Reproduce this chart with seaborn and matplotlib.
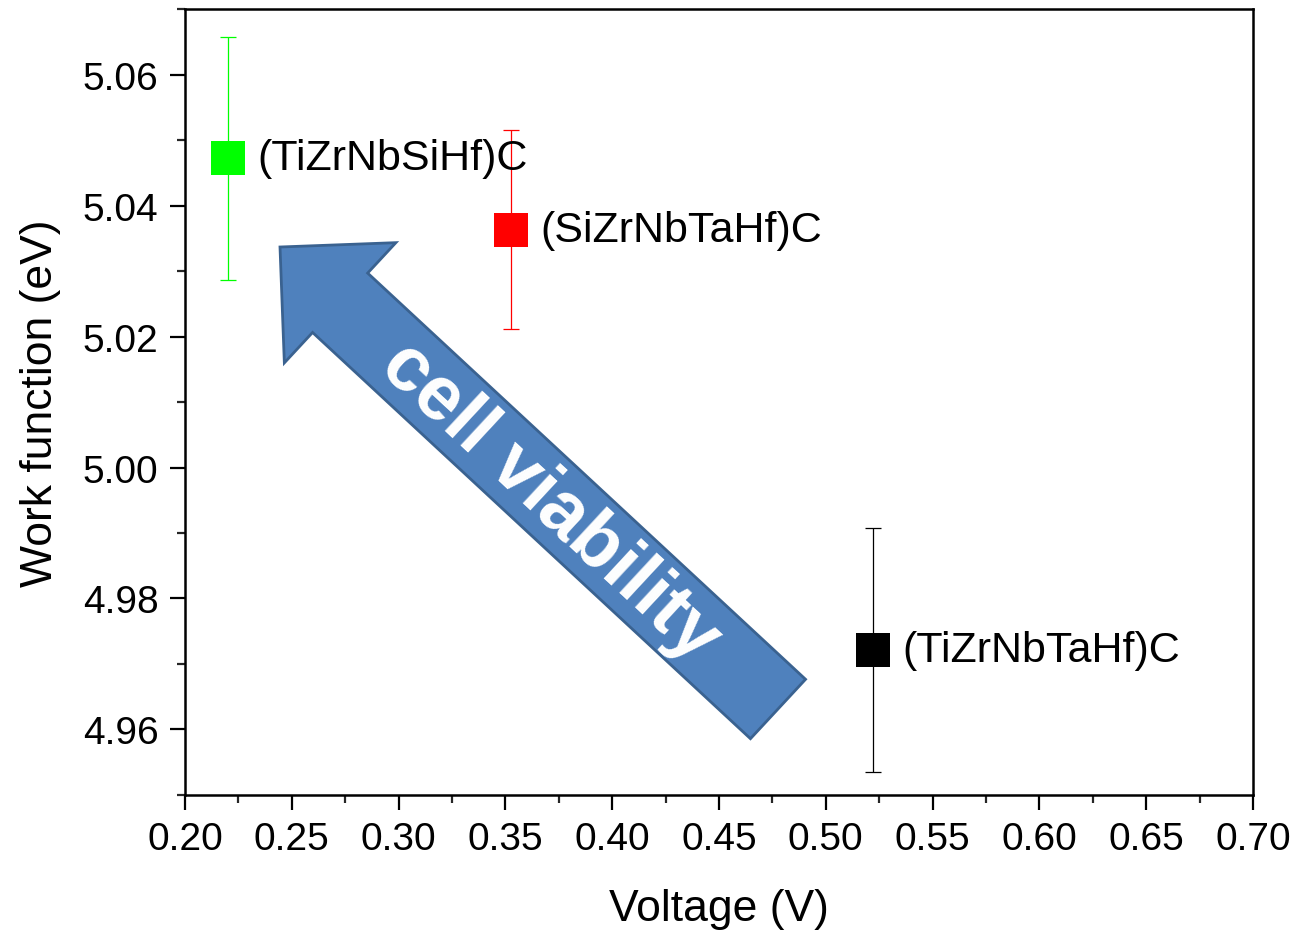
import matplotlib
matplotlib.use("Agg")
import matplotlib.pyplot as plt
from matplotlib.patches import FancyArrow
from matplotlib.ticker import MultipleLocator, FormatStrFormatter
import numpy as np
import pandas as pd
import seaborn as sns

# Measured data
samples = ["(TiZrNbSiHf)C", "(SiZrNbTaHf)C", "(TiZrNbTaHf)C"]
voltage = [0.220, 0.3525, 0.522]
work_function = [5.0472, 5.0363, 4.9721]
wf_error = [0.0185, 0.0152, 0.0186]
colors = ["#00FF00", "#FF0000", "#000000"]

sns.set_theme(style="white")
plt.rcParams["font.family"] = ["Liberation Sans", "DejaVu Sans"]
plt.rcParams["text.color"] = "black"
plt.rcParams["axes.labelcolor"] = "black"

df = pd.DataFrame({"sample": samples, "voltage": voltage, "wf": work_function, "err": wf_error})

fig = plt.figure(figsize=(13.09, 9.37), dpi=100)
ax = fig.add_axes([0.1413, 0.1505, 0.8159, 0.8388])

# Error bars
for v, w, e, c in zip(voltage, work_function, wf_error, colors):
    ax.errorbar(v, w, yerr=e, fmt="none", ecolor=c, elinewidth=0.9,
                capsize=6, capthick=0.9, zorder=2)

# Square markers
sns.scatterplot(data=df, x="voltage", y="wf", hue="sample", palette=colors,
                marker="s", s=600, edgecolor="none", legend=False, ax=ax, zorder=3)

# Sample labels
for s, v, w in zip(samples, voltage, work_function):
    ax.annotate(s, (v, w), xytext=(21.5, 0), textcoords="offset points",
                va="center", ha="left", fontsize=31, color="black")

# Direction arrow (drawn in figure inches so it is not distorted)
tail = (7.78, 9.37 - 7.10)
tip = (2.80, 9.37 - 2.48)
arrow = FancyArrow(tail[0], tail[1], tip[0] - tail[0], tip[1] - tail[1],
                   width=0.81, head_width=1.64, head_length=0.82,
                   length_includes_head=True, facecolor="#4F81BD",
                   edgecolor="#3A6290", linewidth=2.0,
                   transform=fig.dpi_scale_trans, zorder=1)
ax.add_patch(arrow)
ang = np.degrees(np.arctan2(tip[1] - tail[1], tip[0] - tail[0])) - 180
fig.text(5.50 / 13.09, (9.37 - 5.02) / 9.37, "cell viability", rotation=ang,
         rotation_mode="anchor", ha="center", va="center", color="white",
         fontsize=55, fontweight="bold")

ax.set_xlim(0.20, 0.70)
ax.set_ylim(4.95, 5.07)
ax.xaxis.set_major_locator(MultipleLocator(0.05))
ax.xaxis.set_minor_locator(MultipleLocator(0.025))
ax.yaxis.set_major_locator(MultipleLocator(0.02))
ax.yaxis.set_minor_locator(MultipleLocator(0.01))
ax.xaxis.set_major_formatter(FormatStrFormatter("%.2f"))
ax.yaxis.set_major_formatter(FormatStrFormatter("%.2f"))

ax.set_xlabel("Voltage (V)", fontsize=32, labelpad=22, color="black")
ax.set_ylabel("Work function (eV)", fontsize=32, labelpad=16, color="black")

for sp in ax.spines.values():
    sp.set_linewidth(1.8)
    sp.set_color("black")

ax.tick_params(axis="both", which="major", direction="out", length=11, width=1.6,
               labelsize=28, pad=8, colors="black", bottom=True, left=True)
ax.tick_params(axis="both", which="minor", direction="out", length=6, width=1.6,
               bottom=True, left=True)
ax.tick_params(top=False, right=False, which="both")
ax.grid(False)

fig.savefig("out.png", dpi=100)
